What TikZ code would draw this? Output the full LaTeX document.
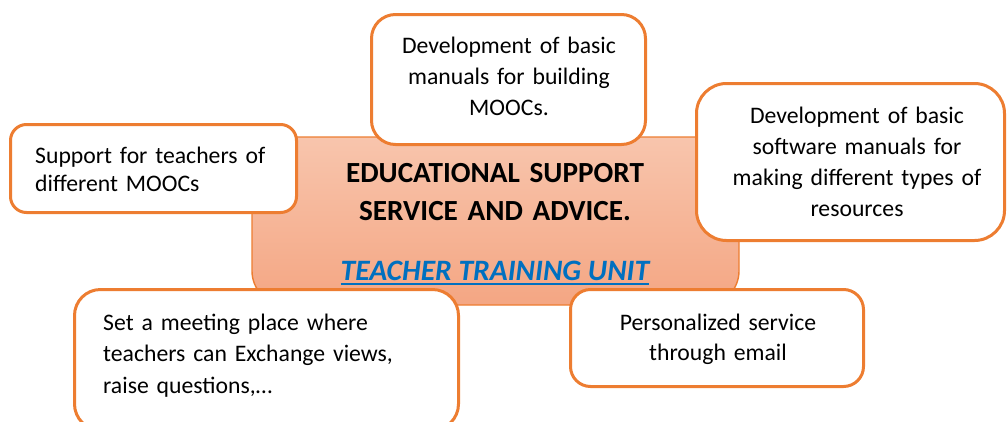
\documentclass[tikz,border=0pt]{standalone}
\usepackage{fontspec}
\setmainfont{Carlito}
\definecolor{boxorange}{HTML}{ED7D31}
\definecolor{shadetop}{HTML}{F8C5AD}
\definecolor{shadebot}{HTML}{F4A683}
\definecolor{linkblue}{HTML}{0070C0}
\tikzset{
  card/.style={draw=boxorange, line width=3pt, fill=white, inner sep=0pt},
  hub/.style={draw=boxorange, line width=1.4pt, top color=shadetop, bottom color=shadebot, inner sep=0pt, rounded corners=34pt},
  body/.style={inner sep=0pt, text=black, font=\fontsize{23.7pt}{31pt}\selectfont},
  titletext/.style={inner sep=0pt, text=black, align=center, text width=420pt, font=\fontsize{29.2pt}{38.5pt}\selectfont\bfseries},
  linktext/.style={inner sep=0pt, text=linkblue, font=\fontsize{29.6pt}{34pt}\selectfont\bfseries\itshape},
  linkline/.style={draw=linkblue, line width=2pt}
}
\begin{document}
\begin{tikzpicture}[x=1pt,y=-1pt]
\useasboundingbox (0,0) rectangle (1007,421);
\clip (0,0) rectangle (1007,421);
% central hub
\node[hub, minimum width=487pt, minimum height=168pt] (hubbox) at (495.5,221) {};
% surrounding cards
\node[card, rounded corners=16pt, minimum width=286pt, minimum height=88pt] (leftbox) at (153.5,168.5) {};
\node[card, rounded corners=24pt, minimum width=274pt, minimum height=130pt] (topbox) at (508.5,79.5) {};
\node[card, rounded corners=30pt, minimum width=308pt, minimum height=157pt] (rightbox) at (850.5,162) {};
\node[card, rounded corners=26pt, minimum width=384pt, minimum height=140.5pt] (blbox) at (266.5,359.75) {};
\node[card, rounded corners=20pt, minimum width=293pt, minimum height=97pt] (brbox) at (717,338) {};
% hub texts
\node[titletext, anchor=base] (title) at (495,182) {EDUCATIONAL SUPPORT\\SERVICE AND ADVICE.};
\node[linktext, anchor=base] (unit) at (495,280) {TEACHER TRAINING UNIT};
\draw[linkline] ([yshift=-4.3pt]unit.base west) -- ([yshift=-4.3pt]unit.base east);
% card texts
\node[body, font=\fontsize{23.7pt}{28.5pt}\selectfont, align=left, text width=255pt, anchor=base west] (lefttext) at (35,163) {Support for teachers of\\different MOOCs};
\node[body, align=center, text width=260pt, anchor=base] (toptext) at (509,53) {Development of basic\\manuals for building\\MOOCs.};
\node[body, align=center, text width=300pt, anchor=base] (righttext) at (857,123) {Development of basic\\software manuals for\\making different types of\\resources};
\node[body, font=\fontsize{23.7pt}{31.5pt}\selectfont, align=left, text width=340pt, anchor=base west] (bltext) at (103,330) {Set a meeting place where\\teachers can Exchange views,\\raise questions,…};
\node[body, font=\fontsize{23.7pt}{30pt}\selectfont, align=center, text width=280pt, anchor=base] (brtext) at (718,330) {Personalized service\\through email};
\end{tikzpicture}
\end{document}
